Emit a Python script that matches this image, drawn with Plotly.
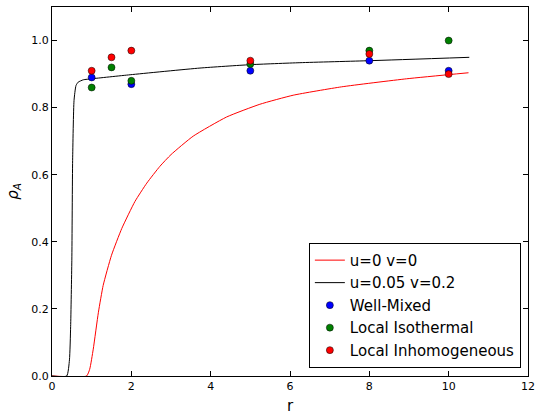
import plotly.graph_objects as go

# Curves
red_r = [0, 0.87, 0.95, 1.04, 1.17, 1.29, 1.50, 1.76, 2.09, 2.39, 2.72, 3.0, 3.56, 4.40, 5.24, 6.08, 7.3, 8.94, 10.5]
red_y = [0, 0, 0.02, 0.08, 0.19, 0.27, 0.36, 0.44, 0.52, 0.575, 0.625, 0.66, 0.715, 0.772, 0.81, 0.837, 0.862, 0.886, 0.904]

blk_r = [0, 0.37, 0.44, 0.47, 0.50, 0.52, 0.555, 0.605, 0.66, 0.79, 1.0, 1.97, 3.73, 4.99, 6.25, 8.02, 10.52]
blk_y = [0, 0, 0.048, 0.147, 0.345, 0.643, 0.821, 0.866, 0.876, 0.883, 0.886, 0.898, 0.918, 0.928, 0.934, 0.940, 0.950]

# Scatter points
wm_r = [1, 2, 5, 8, 10]
wm_y = [0.89, 0.87, 0.91, 0.94, 0.91]

li_r = [1, 1.5, 2, 5, 8, 10]
li_y = [0.86, 0.92, 0.88, 0.93, 0.97, 1.0]

lh_r = [1, 1.5, 2, 5, 8, 10]
lh_y = [0.91, 0.95, 0.97, 0.94, 0.96, 0.90]

x_ticks = [0, 2, 4, 6, 8, 10, 12]
y_ticks = [0.0, 0.2, 0.4, 0.6, 0.8, 1.0]

FONT = "DejaVu Sans"

fig = go.Figure()
fig.add_trace(go.Scatter(x=red_r, y=red_y, mode="lines", name="u=0 v=0",
                         line=dict(color="#ff0000", width=1, shape="spline", smoothing=0.5)))
fig.add_trace(go.Scatter(x=blk_r, y=blk_y, mode="lines", name="u=0.05 v=0.2",
                         line=dict(color="#000000", width=1, shape="spline", smoothing=0.5)))
mk = dict(size=7, line=dict(color="black", width=0.5))
fig.add_trace(go.Scatter(x=wm_r, y=wm_y, mode="markers", name="Well-Mixed",
                         marker=dict(color="#0000ff", **mk)))
fig.add_trace(go.Scatter(x=li_r, y=li_y, mode="markers", name="Local Isothermal",
                         marker=dict(color="#008000", **mk)))
fig.add_trace(go.Scatter(x=lh_r, y=lh_y, mode="markers", name="Local Inhomogeneous",
                         marker=dict(color="#ff0000", **mk)))

axis_common = dict(showline=True, linecolor="black", linewidth=1, mirror="allticks",
                   ticks="inside", ticklen=5, tickcolor="black", showgrid=False,
                   zeroline=False, automargin=False,
                   tickfont=dict(family=FONT, size=11, color="black"))

fig.update_xaxes(range=[0, 12], tickvals=x_ticks, ticktext=[str(t) for t in x_ticks],
                 title=dict(text="r", font=dict(family=FONT, size=15, color="black"), standoff=8),
                 **axis_common)
fig.update_yaxes(range=[0, 1.1], tickvals=y_ticks, ticktext=[f"{t:.1f}" for t in y_ticks],
                 title=dict(text="<i>ρ</i><sub><i>A</i></sub>", font=dict(family=FONT, size=15, color="black"), standoff=9),
                 **axis_common)

fig.update_layout(
    width=537, height=415,
    margin=dict(l=52, r=9, t=7, b=39, autoexpand=False),
    plot_bgcolor="white", paper_bgcolor="white",
    font=dict(family=FONT, color="black"),
    legend=dict(x=0.985, y=0.022, xanchor="right", yanchor="bottom",
                bgcolor="white", bordercolor="black", borderwidth=1,
                font=dict(family=FONT, size=15, color="black"),
                itemwidth=30, tracegroupgap=0),
)

fig.write_html("out.html", config={"displayModeBar": False},
               post_script="document.body.style.margin='0';")
